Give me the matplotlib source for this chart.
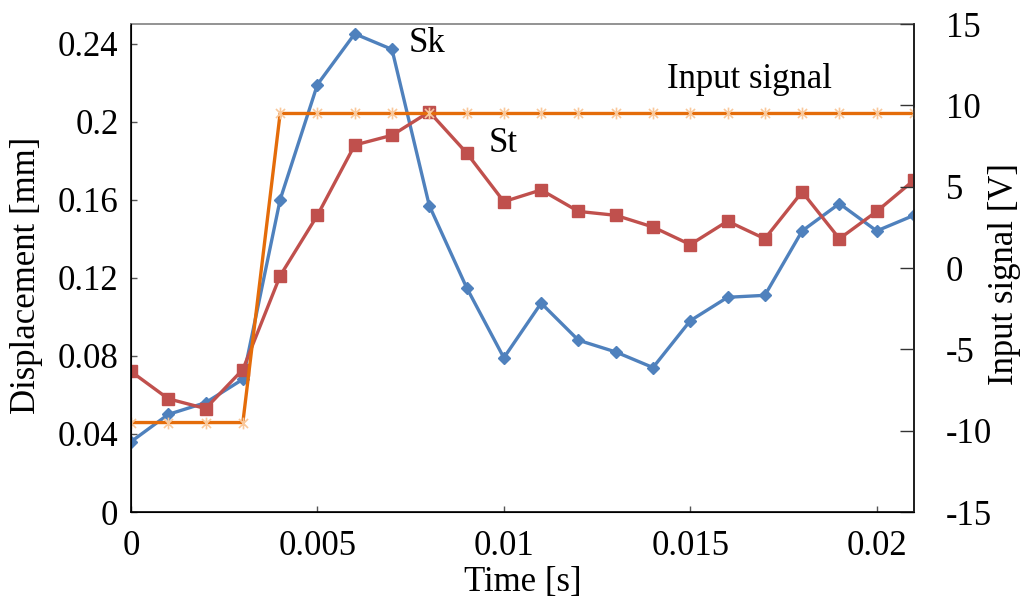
import numpy as np
import matplotlib
matplotlib.use("Agg")
import matplotlib.pyplot as plt
from matplotlib.path import Path

plt.rcParams['font.family'] = ['Liberation Serif', 'DejaVu Serif']
plt.rcParams['font.size'] = 25
plt.rcParams['axes.unicode_minus'] = False

# time samples [s]
time_s = [0.000, 0.001, 0.002, 0.003, 0.004, 0.005, 0.006, 0.007, 0.008, 0.009, 0.010,
          0.011, 0.012, 0.013, 0.014, 0.015, 0.016, 0.017, 0.018, 0.019, 0.020, 0.021]

# displacement [mm]
sk_disp = [0.036, 0.050, 0.056, 0.068, 0.160, 0.219, 0.245, 0.237, 0.157, 0.115, 0.079,
           0.107, 0.088, 0.082, 0.074, 0.098, 0.110, 0.111, 0.144, 0.158, 0.144, 0.152]
st_disp = [0.072, 0.058, 0.053, 0.073, 0.121, 0.152, 0.188, 0.193, 0.205, 0.184, 0.159,
           0.165, 0.154, 0.152, 0.146, 0.137, 0.149, 0.140, 0.164, 0.140, 0.154, 0.170]

# input signal [V]
input_v = [-9.5, -9.5, -9.5, -9.5, 9.5, 9.5, 9.5, 9.5, 9.5, 9.5, 9.5,
           9.5, 9.5, 9.5, 9.5, 9.5, 9.5, 9.5, 9.5, 9.5, 9.5, 9.5]

x_ticks = [0, 0.005, 0.01, 0.015, 0.02]
x_tick_labels = ['0', '0.005', '0.01', '0.015', '0.02']
y_ticks = [0, 0.04, 0.08, 0.12, 0.16, 0.2, 0.24]
y_tick_labels = ['0', '0.04', '0.08', '0.12', '0.16', '0.2', '0.24']
y2_ticks = [-15, -10, -5, 0, 5, 10, 15]

blue = '#4F81BD'
red = '#C0504D'
orange = '#E46C0A'
peach = '#F9C89B'

# "x" with a vertical stroke, like a spreadsheet star marker
star = Path([(-1, -1), (1, 1), (-1, 1), (1, -1), (0, -1.3), (0, 1.3)],
            [Path.MOVETO, Path.LINETO, Path.MOVETO, Path.LINETO, Path.MOVETO, Path.LINETO])

fig = plt.figure(figsize=(10.25, 6.02), dpi=100)
ax = fig.add_axes([0.1278, 0.1495, 0.7639, 0.8106])

ax.plot(time_s, sk_disp, color=blue, lw=2.4, marker='D', ms=6.5, mec=blue, mfc=blue)
ax.plot(time_s, st_disp, color=red, lw=2.4, marker='s', ms=8.5, mec=red, mfc=red)

ax.set_xlim(0, 0.021)
ax.set_ylim(0, 0.25)
ax.set_xticks(x_ticks)
ax.set_xticklabels(x_tick_labels)
ax.set_yticks(y_ticks)
ax.set_yticklabels(y_tick_labels)
ax.tick_params(axis='both', direction='in', length=4, width=1, color='#555555')
ax.tick_params(axis='y', pad=9)
ax.tick_params(axis='x', pad=13)
ax.set_xlabel('Time [s]', labelpad=2)
ax.set_ylabel('Displacement [mm]', va='center')
ax.yaxis.set_label_coords(-0.133, 0.485)

ax.spines['top'].set_color('#808080')
ax.spines['left'].set_color('black')
ax.spines['bottom'].set_color('black')
for s in ax.spines.values():
    s.set_linewidth(1.2)

ax2 = ax.twinx()
ax2.plot(time_s, input_v, color=orange, lw=2.4, marker=star, ms=8.5,
         mec=peach, mew=1.2)
ax2.set_ylim(-15, 15)
ax2.set_yticks(y2_ticks)
ax2.tick_params(axis='y', direction='in', length=10, width=1, color='#333333', pad=23)
ax2.set_ylabel('Input signal [V]', va='center')
ax2.yaxis.set_label_coords(1.116, 0.487)
ax2.spines['right'].set_color('#222222')
ax2.spines['right'].set_linewidth(1.2)
ax2.spines['top'].set_visible(False)

ax.text(0.00745, 0.240, 'Sk', ha='left', va='center')
ax.text(0.0096, 0.189, 'St', ha='left', va='center')
ax.text(0.01437, 0.2215, 'Input signal', ha='left', va='center')

fig.savefig('out.png', dpi=100)
